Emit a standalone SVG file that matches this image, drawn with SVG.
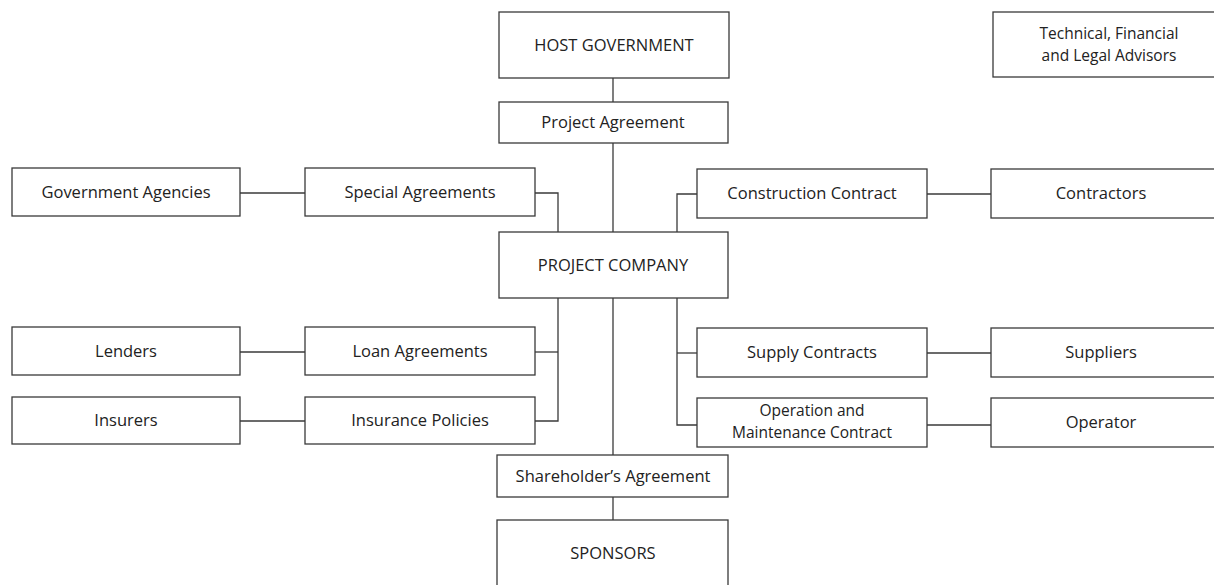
<svg xmlns="http://www.w3.org/2000/svg" width="1214" height="585" viewBox="0 0 1214 585">
  <style>
    .box { fill: #ffffff; stroke: #3a3a3a; stroke-width: 1.3; }
    .lbl { font-family: "Open Sans", "Liberation Sans", sans-serif; font-size: 16.5px; fill: #222222; text-anchor: middle; }
    .lbl2 { font-size: 15.5px; }
    .wire { fill: none; stroke: #3a3a3a; stroke-width: 1.3; }
  </style>
  <rect width="1214" height="585" fill="#ffffff"/>

  <!-- connectors -->
  <g id="connectors" class="wire">
    <line x1="613" y1="78" x2="613" y2="102"/>
    <line x1="613" y1="143" x2="613" y2="232"/>
    <line x1="240" y1="193" x2="305" y2="193"/>
    <polyline points="535,193 558,193 558,232"/>
    <polyline points="697,194 677,194 677,232"/>
    <line x1="927" y1="194" x2="991" y2="194"/>
    <polyline points="558,298 558,421 535,421"/>
    <line x1="558" y1="352" x2="535" y2="352"/>
    <line x1="240" y1="352" x2="305" y2="352"/>
    <line x1="240" y1="421" x2="305" y2="421"/>
    <polyline points="677,298 677,425 697,425"/>
    <line x1="677" y1="353" x2="697" y2="353"/>
    <line x1="927" y1="353" x2="991" y2="353"/>
    <line x1="927" y1="425" x2="991" y2="425"/>
    <line x1="613" y1="298" x2="613" y2="455"/>
    <line x1="613" y1="497" x2="613" y2="520"/>
  </g>

  <g id="host-government">
    <rect class="box" x="499" y="12" width="230" height="66"/>
    <text class="lbl" x="614" y="51">HOST GOVERNMENT</text>
  </g>
  <g id="advisors">
    <rect class="box" x="993" y="12" width="240" height="65"/>
    <text class="lbl lbl2" x="1109" y="39">Technical, Financial</text>
    <text class="lbl lbl2" x="1109" y="61">and Legal Advisors</text>
  </g>
  <g id="project-agreement">
    <rect class="box" x="499" y="102" width="229" height="41"/>
    <text class="lbl" x="613" y="128">Project Agreement</text>
  </g>
  <g id="government-agencies">
    <rect class="box" x="12" y="168" width="228" height="48"/>
    <text class="lbl" x="126" y="198">Government Agencies</text>
  </g>
  <g id="special-agreements">
    <rect class="box" x="305" y="168" width="230" height="48"/>
    <text class="lbl" x="420" y="198">Special Agreements</text>
  </g>
  <g id="construction-contract">
    <rect class="box" x="697" y="169" width="230" height="49"/>
    <text class="lbl" x="812" y="199">Construction Contract</text>
  </g>
  <g id="contractors">
    <rect class="box" x="991" y="169" width="240" height="49"/>
    <text class="lbl" x="1101" y="199">Contractors</text>
  </g>
  <g id="project-company">
    <rect class="box" x="499" y="232" width="229" height="66"/>
    <text class="lbl" x="613" y="271">PROJECT COMPANY</text>
  </g>
  <g id="lenders">
    <rect class="box" x="12" y="327" width="228" height="48"/>
    <text class="lbl" x="126" y="357">Lenders</text>
  </g>
  <g id="loan-agreements">
    <rect class="box" x="305" y="327" width="230" height="48"/>
    <text class="lbl" x="420" y="357">Loan Agreements</text>
  </g>
  <g id="supply-contracts">
    <rect class="box" x="697" y="328" width="230" height="49"/>
    <text class="lbl" x="812" y="358">Supply Contracts</text>
  </g>
  <g id="suppliers">
    <rect class="box" x="991" y="328" width="240" height="49"/>
    <text class="lbl" x="1101" y="358">Suppliers</text>
  </g>
  <g id="insurers">
    <rect class="box" x="12" y="397" width="228" height="47"/>
    <text class="lbl" x="126" y="426">Insurers</text>
  </g>
  <g id="insurance-policies">
    <rect class="box" x="305" y="397" width="230" height="47"/>
    <text class="lbl" x="420" y="426">Insurance Policies</text>
  </g>
  <g id="om-contract">
    <rect class="box" x="697" y="398" width="230" height="49"/>
    <text class="lbl lbl2" x="812" y="416">Operation and</text>
    <text class="lbl lbl2" x="812" y="438">Maintenance Contract</text>
  </g>
  <g id="operator">
    <rect class="box" x="991" y="398" width="240" height="49"/>
    <text class="lbl" x="1101" y="428">Operator</text>
  </g>
  <g id="shareholders-agreement">
    <rect class="box" x="497" y="455" width="231" height="42"/>
    <text class="lbl" x="613" y="482">Shareholder’s Agreement</text>
  </g>
  <g id="sponsors">
    <rect class="box" x="497" y="520" width="231" height="80"/>
    <text class="lbl" x="613" y="559">SPONSORS</text>
  </g>
</svg>
